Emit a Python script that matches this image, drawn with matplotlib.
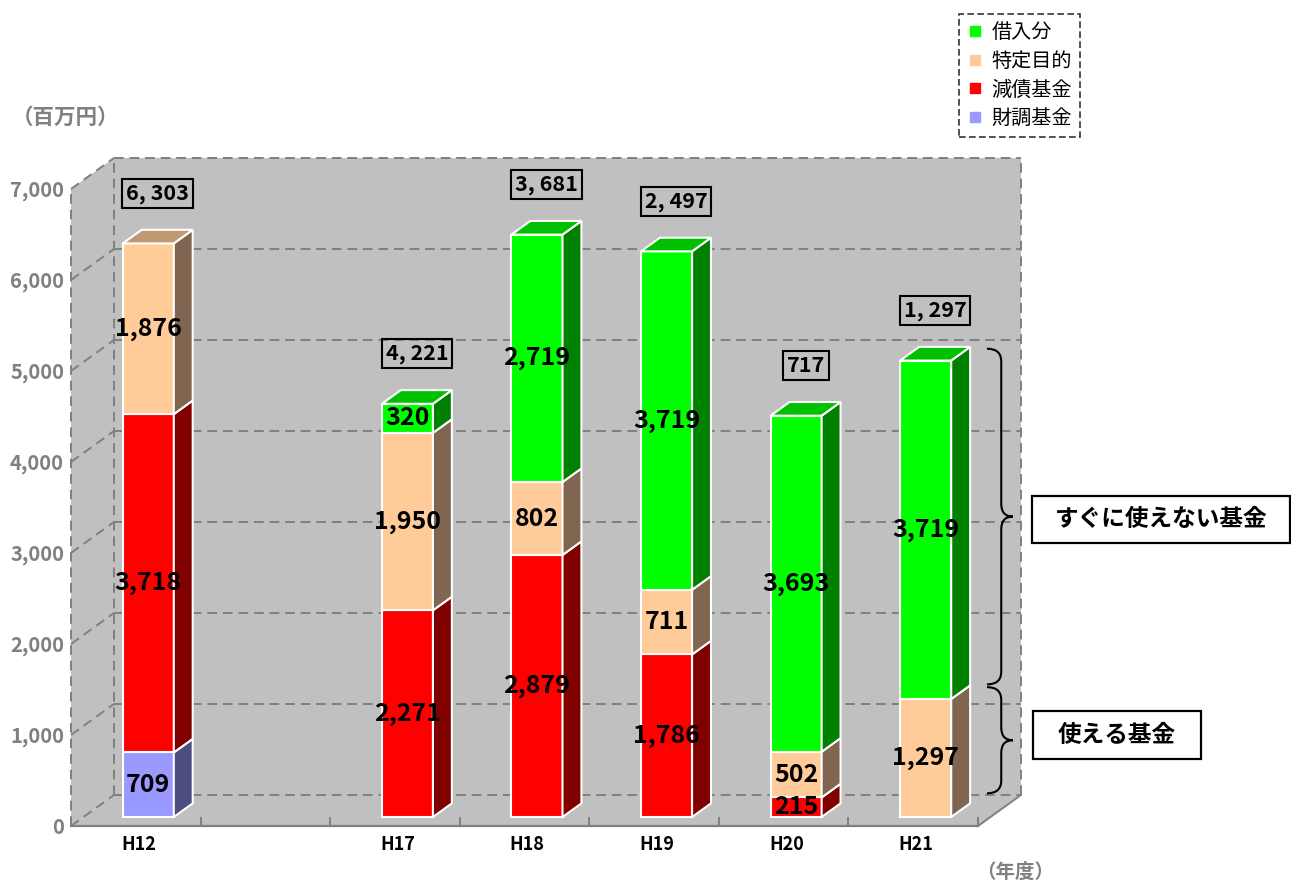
import numpy as np
import matplotlib.pyplot as plt
from matplotlib.patches import Polygon, Rectangle, PathPatch
from matplotlib.path import Path
from matplotlib.lines import Line2D

plt.rcParams['font.family'] = ['Noto Sans CJK JP', 'DejaVu Sans']

# data
years = ['H12', 'H17', 'H18', 'H19', 'H20', 'H21']
slots = [0, 2, 3, 4, 5, 6]
zaicho = [709, 0, 0, 0, 0, 0]          # 財調基金
gensai = [3718, 2271, 2879, 1786, 215, 0]  # 減債基金
tokutei = [1876, 1950, 802, 711, 502, 1297]  # 特定目的
kariire = [0, 320, 2719, 3719, 3693, 3719]   # 借入分

names = ['財調基金', '減債基金', '特定目的', '借入分']
values = [zaicho, gensai, tokutei, kariire]
# front, side, top colours
cols = [('#9999FF', '#4D4D80', '#7373BF'),
        ('#FF0000', '#800000', '#C00000'),
        ('#FFCC99', '#806650', '#C09973'),
        ('#00FF00', '#008000', '#00C000')]

W, H = 1291, 881
fig = plt.figure(figsize=(W / 100, H / 100), dpi=100)
ax = fig.add_axes([71 / W, 55 / H, 907 / W, 637 / H])
ax.set_xlim(-0.5, 6.5)
ax.set_ylim(0, 7000)
ax.axis('off')

wx, wy = 0.332, 341       # depth of the box walls in data units
gray = '#C0C0C0'
gridc = '#808080'
dash = (0, (5, 3))

# walls and floor
x0, x1, ytop = -0.5, 6.5, 7000
ax.add_patch(Polygon([(x0 + wx, wy), (x1 + wx, wy), (x1 + wx, ytop + wy), (x0 + wx, ytop + wy)],
                     closed=True, fc=gray, ec='none', clip_on=False, zorder=0))
ax.add_patch(Polygon([(x0, 0), (x0, ytop), (x0 + wx, ytop + wy), (x0 + wx, wy)],
                     closed=True, fc=gray, ec='none', clip_on=False, zorder=0))
ax.add_patch(Polygon([(x0, 0), (x1, 0), (x1 + wx, wy), (x0 + wx, wy)],
                     closed=True, fc=gray, ec='none', clip_on=False, zorder=0))

# grid lines
for v in range(0, 7001, 1000):
    ax.plot([x0, x0 + wx], [v, v + wy], color=gridc, lw=1.4, ls=dash, clip_on=False, zorder=1)
    ax.plot([x0 + wx, x1 + wx], [v + wy, v + wy], color=gridc, lw=1.4, ls=dash, clip_on=False, zorder=1)
ax.plot([x0, x0], [0, ytop], color=gridc, lw=1.4, ls=dash, clip_on=False, zorder=1)
ax.plot([x0 + wx, x0 + wx], [wy, ytop + wy], color=gridc, lw=1.4, ls=dash, clip_on=False, zorder=1)
ax.plot([x1 + wx, x1 + wx], [wy, ytop + wy], color=gridc, lw=1.4, ls=dash, clip_on=False, zorder=1)
ax.plot([x0, x1], [0, 0], color=gridc, lw=1.6, clip_on=False, zorder=1)
ax.plot([x1, x1 + wx], [0, wy], color=gridc, lw=1.4, clip_on=False, zorder=1)
for k in np.arange(0.5, 7.0, 1.0):
    ax.plot([k, k], [0, 90], color=gridc, lw=1.4, clip_on=False, zorder=1)

# y tick labels
for v in range(0, 7001, 1000):
    ax.annotate(f'{v:,}', (x0, v), xytext=(-5, -1), textcoords='offset points',
                ha='right', va='center', fontsize=14.5, fontweight='bold', color=gridc)

# bars
bw = 0.394
sx, sy = 0.29 * wx, 0.29 * wy       # bar placed inside the box
dx, dy = 0.44 * wx, 0.44 * wy       # bar depth
for i, s in enumerate(slots):
    xc = s + sx
    xl, xr = xc - bw / 2, xc + bw / 2
    base = sy
    top_col = None
    for vals, (cf, cs, ct) in zip(values, cols):
        h = vals[i]
        if h == 0:
            continue
        ax.add_patch(Rectangle((xl, base), bw, h, fc=cf, ec='white', lw=1.5, clip_on=False, zorder=3))
        ax.add_patch(Polygon([(xr, base), (xr + dx, base + dy), (xr + dx, base + h + dy), (xr, base + h)],
                             closed=True, fc=cs, ec='white', lw=1.5, clip_on=False, zorder=3))
        ax.text(xc, base + h / 2, f'{h:,}', ha='center', va='center', fontsize=18,
                fontweight='bold', color='black', zorder=6)
        base += h
        top_col = ct
    ax.add_patch(Polygon([(xl, base), (xl + dx, base + dy), (xr + dx, base + dy), (xr, base)],
                         closed=True, fc=top_col, ec='white', lw=1.5, clip_on=False, zorder=3))
    usable = zaicho[i] + gensai[i] + tokutei[i]
    ax.text(xc + dx / 2, base + 550, f'{usable:,}'.replace(',', ', '), ha='center', va='center',
            fontsize=15.5, fontweight='bold', color='black', zorder=6,
            bbox=dict(boxstyle='square,pad=0.18', fc='none', ec='black', lw=1.5))
    ax.annotate(years[i], (s, 0), xytext=(2, -13), textcoords='offset points',
                ha='center', va='center', fontsize=13, fontweight='bold', color='black')


def brace(xa, xt, y0, y1, r):
    xm = xa + 0.55 * (xt - xa)
    ym = (y0 + y1) / 2
    verts = [(xa, y1), (xm, y1), (xm, y1 - r), (xm, ym + r), (xm, ym), (xt, ym),
             (xm, ym), (xm, ym - r), (xm, y0 + r), (xm, y0), (xa, y0)]
    codes = [Path.MOVETO, Path.CURVE3, Path.CURVE3, Path.LINETO, Path.CURVE3, Path.CURVE3,
             Path.CURVE3, Path.CURVE3, Path.LINETO, Path.CURVE3, Path.CURVE3]
    ax.add_patch(PathPatch(Path(verts, codes), fc='none', ec='black', lw=1.5, clip_on=False, zorder=7))


# braces next to the last bar
last = len(slots) - 1
bx = slots[last] + sx + bw / 2 + dx
b_low = zaicho[last] + gensai[last] + tokutei[last]
b_top = b_low + kariire[last]
brace(bx + 0.13, bx + 0.33, sy + dy + 110, sy + dy + b_low - 20, 140)
brace(bx + 0.13, bx + 0.33, sy + dy + b_low + 10, sy + dy + b_top - 20, 140)

# callout boxes
for (l, t, r, b), txt in [((1032, 496, 1290, 543), 'すぐに使えない基金'),
                          ((1033, 711, 1201, 759), '使える基金')]:
    fig.add_artist(Rectangle((l / W, 1 - b / H), (r - l) / W, (b - t) / H, transform=fig.transFigure,
                             fc='white', ec='black', lw=1.6))
    fig.text((l + r) / 2 / W, 1 - (t + b) / 2 / H, txt, ha='center', va='center',
             fontsize=17, fontweight='bold')

# units
fig.text(66 / W, 1 - 117 / H, '（百万円）', ha='center', va='center', fontsize=15.5,
         fontweight='bold', color=gridc)
fig.text(1015 / W, 1 - 872 / H, '（年度）', ha='center', va='center', fontsize=14,
         fontweight='bold', color=gridc)

# legend
handles = [Line2D([], [], marker='s', ls='', color=cols[k][0], markersize=7) for k in range(3, -1, -1)]
leg = fig.legend(handles, [names[k] for k in range(3, -1, -1)], loc='upper right',
                 bbox_to_anchor=(1080 / W, 1 - 14 / H), bbox_transform=fig.transFigure,
                 fontsize=14.5, frameon=True, fancybox=False, edgecolor='black',
                 handlelength=0.8, handletextpad=0.4, borderpad=0.4, labelspacing=0.38,
                 borderaxespad=0)
leg.get_frame().set_linestyle((0, (4, 2)))
leg.get_frame().set_linewidth(1.2)

fig.savefig('out.png', dpi=100)
